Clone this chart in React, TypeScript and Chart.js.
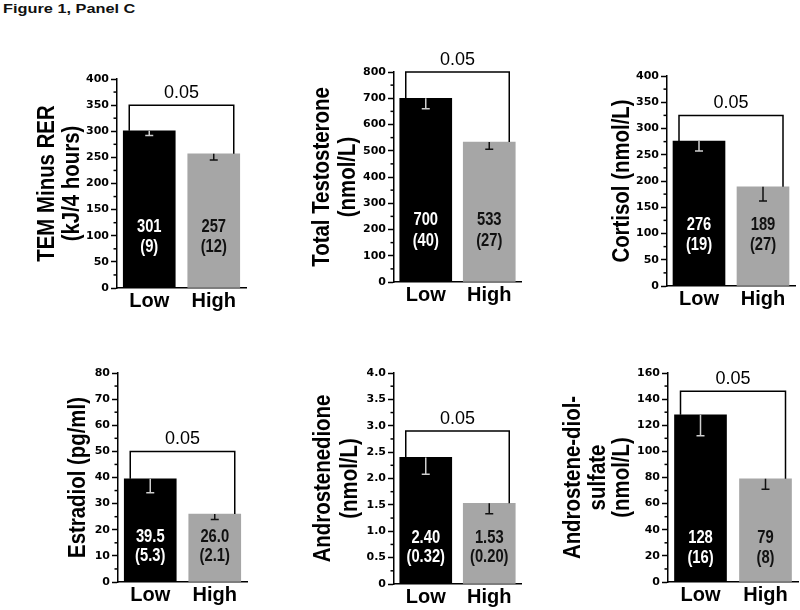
import React, { useEffect, useRef } from 'react';
import { Chart, registerables } from 'chart.js';

Chart.register(...registerables);

// ---------- data ----------
const categories = ['Low', 'High'];
const pValueLabel = '0.05';

const temMeans = [301, 257];
const temErrs = [9, 12];
const testosteroneMeans = [700, 533];
const testosteroneErrs = [40, 27];
const cortisolMeans = [276, 189];
const cortisolErrs = [19, 27];
const estradiolMeans = [39.5, 26.0];
const estradiolErrs = [5.3, 2.1];
const androstenedioneMeans = [2.4, 1.53];
const androstenedioneErrs = [0.32, 0.2];
const adiolSulfateMeans = [128, 79];
const adiolSulfateErrs = [16, 8];

const yMaxes = [400, 800, 400, 80, 4, 160];
const yMajorSteps = [50, 100, 50, 10, 0.5, 20];
const bracketLevels = [350, 800, 325, 50, 2.9, 146];
const valueDecimals = [0, 0, 0, 1, 2, 0];
const tickDecimals = [0, 0, 0, 0, 1, 0];
const yTitles = [
  ['TEM Minus RER', '(kJ/4 hours)'],
  ['Total Testosterone', '(nmol/L)'],
  ['Cortisol (nmol/L)'],
  ['Estradiol (pg/ml)'],
  ['Androstenedione', '(nmol/L)'],
  ['Androstene-diol-', 'sulfate', '(nmol/L)'],
];
const panelMeans = [temMeans, testosteroneMeans, cortisolMeans, estradiolMeans, androstenedioneMeans, adiolSulfateMeans];
const panelErrs = [temErrs, testosteroneErrs, cortisolErrs, estradiolErrs, androstenedioneErrs, adiolSulfateErrs];

// ---------- layout (page pixel geometry) ----------
const layouts = [
  { cx: 0, cy: 28, cw: 262, ch: 292, L: 117, R: 246, T: 79, B: 288, titleX: [47, 72], lab: [61, 41] },
  { cx: 262, cy: 28, cw: 270, ch: 292, L: 394, R: 521, T: 72, B: 282, titleX: [322, 348], lab: [62, 41] },
  { cx: 532, cy: 28, cw: 268, ch: 292, L: 667, R: 795, T: 76, B: 286, titleX: [622], lab: [61, 41] },
  { cx: 0, cy: 322, cw: 262, ch: 288, L: 118, R: 247, T: 373, B: 582, titleX: [78], lab: [45, 26] },
  { cx: 262, cy: 322, cw: 270, ch: 288, L: 394, R: 521, T: 373, B: 584, titleX: [323, 350], lab: [46, 27] },
  { cx: 532, cy: 322, cw: 268, ch: 288, L: 668, R: 798, T: 373, B: 582, titleX: [573, 598, 622], lab: [44, 24] },
];

const SANS = '"Liberation Sans", Arial, Helvetica, sans-serif';

function drawScaledText(ctx: CanvasRenderingContext2D, text: string, x: number, y: number, sx: number, rotate = 0) {
  ctx.save();
  ctx.translate(x, y);
  if (rotate) ctx.rotate(rotate);
  ctx.scale(sx, 1);
  ctx.textAlign = 'center';
  ctx.textBaseline = 'middle';
  ctx.fillText(text, 0, 0);
  ctx.restore();
}

const annotatePlugin = {
  id: 'annotate',
  afterDraw(chart: any, _args: any, opts: any) {
    const ctx: CanvasRenderingContext2D = chart.ctx;
    const ys = chart.scales.y;
    const area = chart.chartArea;
    const meta = chart.getDatasetMeta(0);
    const { means, errs, step, max, bracket, dec, titles, titleX, p, lab } = opts;

    ctx.save();
    // minor ticks
    ctx.strokeStyle = '#000';
    ctx.lineWidth = 1.5;
    for (let v = step / 2; v < max; v += step) {
      const py = ys.getPixelForValue(v);
      ctx.beginPath();
      ctx.moveTo(area.left - 3.5, py);
      ctx.lineTo(area.left, py);
      ctx.stroke();
    }

    const base = ys.getPixelForValue(0);
    meta.data.forEach((bar: any, i: number) => {
      const m = means[i];
      const e = errs[i];
      const yt = ys.getPixelForValue(m);
      const yb = ys.getPixelForValue(m - e);
      ctx.strokeStyle = i === 0 ? '#cfcfcf' : '#111';
      ctx.lineWidth = 1.5;
      ctx.beginPath();
      ctx.moveTo(bar.x, yt);
      ctx.lineTo(bar.x, yb);
      ctx.moveTo(bar.x - 4, yb);
      ctx.lineTo(bar.x + 4, yb);
      ctx.stroke();

      ctx.fillStyle = i === 0 ? '#fff' : '#111';
      ctx.font = `bold 18px ${SANS}`;
      drawScaledText(ctx, m.toFixed(dec), bar.x, base - lab[0], 0.82);
      drawScaledText(ctx, `(${e.toFixed(dec)})`, bar.x, base - lab[1], 0.82);
    });

    // significance bracket
    const b0 = meta.data[0];
    const b1 = meta.data[1];
    const xl = b0.x - b0.width / 2 + 6;
    const xr = b1.x + b1.width / 2 - 6;
    const yTop = ys.getPixelForValue(bracket);
    ctx.strokeStyle = '#000';
    ctx.lineWidth = 1.5;
    ctx.beginPath();
    ctx.moveTo(xl, ys.getPixelForValue(means[0]));
    ctx.lineTo(xl, yTop);
    ctx.lineTo(xr, yTop);
    ctx.lineTo(xr, ys.getPixelForValue(means[1]));
    ctx.stroke();
    ctx.fillStyle = '#000';
    ctx.font = `18px ${SANS}`;
    ctx.textAlign = 'center';
    ctx.textBaseline = 'alphabetic';
    ctx.fillText(p, (xl + xr) / 2, yTop - 7.5);

    // rotated y-axis titles
    ctx.font = `bold 24px ${SANS}`;
    ctx.fillStyle = '#000';
    const yc = (area.top + area.bottom) / 2;
    titles.forEach((line: string, i: number) => {
      drawScaledText(ctx, line, titleX[i], yc, 0.85, -Math.PI / 2);
    });
    ctx.restore();
  },
};

function Panel({ idx }: { idx: number }) {
  const ref = useRef<HTMLCanvasElement>(null);
  const lay = layouts[idx];
  useEffect(() => {
    if (!ref.current) return;
    const means = panelMeans[idx];
    const errs = panelErrs[idx];
    const chart = new Chart(ref.current, {
      type: 'bar',
      data: {
        labels: categories,
        datasets: [
          {
            data: means,
            backgroundColor: ['#000000', '#a6a6a6'],
            borderWidth: 0,
            barThickness: 52,
          },
        ],
      },
      options: {
        responsive: false,
        animation: false,
        events: [],
        layout: {
          padding: { left: 0, top: lay.T - lay.cy, right: lay.cx + lay.cw - lay.R, bottom: 0 },
        },
        plugins: {
          legend: { display: false },
          tooltip: { enabled: false },
          annotate: {
            means,
            errs,
            step: yMajorSteps[idx],
            max: yMaxes[idx],
            bracket: bracketLevels[idx],
            dec: valueDecimals[idx],
            titles: yTitles[idx],
            titleX: lay.titleX.map((x) => x - lay.cx),
            p: pValueLabel,
            lab: lay.lab,
          },
        } as any,
        scales: {
          x: {
            type: 'category',
            offset: true,
            grid: { display: false, drawTicks: false },
            border: { display: true, color: '#000', width: 1.5 },
            ticks: {
              color: '#000',
              padding: 1,
              maxRotation: 0,
              autoSkip: false,
              font: { family: SANS, size: 20, weight: 'bold' },
            },
            afterFit: (s: any) => {
              s.height = lay.cy + lay.ch - lay.B;
            },
          },
          y: {
            min: 0,
            max: yMaxes[idx],
            grid: {
              display: true,
              drawOnChartArea: false,
              drawTicks: true,
              tickLength: 6,
              tickWidth: 1.5,
              tickColor: '#000',
            },
            border: { display: true, color: '#000', width: 1.5 },
            ticks: {
              stepSize: yMajorSteps[idx],
              color: '#000',
              padding: 2,
              font: { family: '"DejaVu Sans", sans-serif', size: 11, weight: 'bold' },
              callback: (v: any) => (Number(v) === 0 ? '0' : Number(v).toFixed(tickDecimals[idx])),
            },
            afterFit: (s: any) => {
              s.width = lay.L - lay.cx;
            },
          },
        } as any,
      },
      plugins: [annotatePlugin],
    });
    return () => chart.destroy();
  }, [idx]);
  return (
    <canvas
      ref={ref}
      width={lay.cw}
      height={lay.ch}
      style={{ position: 'absolute', left: lay.cx, top: lay.cy, width: lay.cw, height: lay.ch }}
    />
  );
}

export default function App() {
  return (
    <div style={{ position: 'absolute', left: 0, top: 0, width: 800, height: 610, background: '#fff', overflow: 'hidden' }}>
      <div
        style={{
          position: 'absolute',
          left: 3,
          top: 3,
          font: `bold 12px ${SANS}`,
          lineHeight: 1,
          whiteSpace: 'nowrap',
          transform: 'scaleX(1.36)',
          transformOrigin: 'left top',
          color: '#111',
        }}
      >
        Figure 1, Panel C
      </div>
      {layouts.map((_, i) => (
        <Panel key={i} idx={i} />
      ))}
    </div>
  );
}
